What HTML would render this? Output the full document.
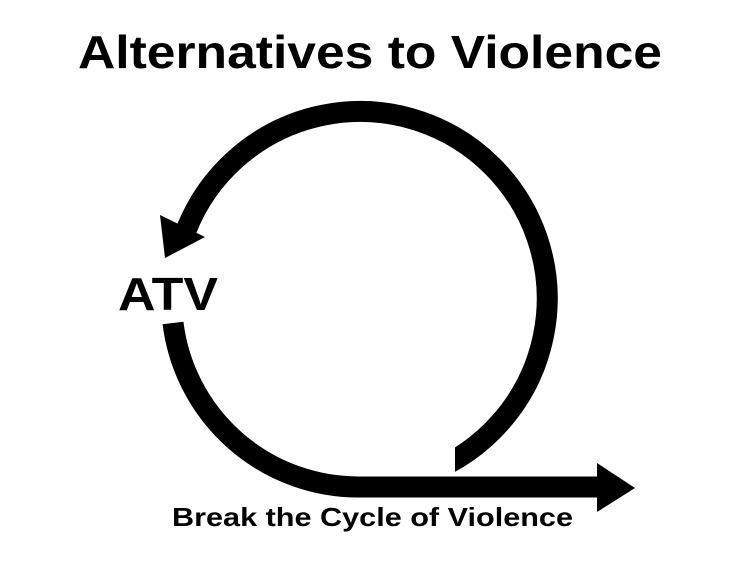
<!DOCTYPE html>
<html><head><meta charset="utf-8"><style>html,body{margin:0;padding:0;background:#fff;}svg{display:block;}</style></head>
<body>
<svg width="755" height="568" viewBox="0 0 755 568" xmlns="http://www.w3.org/2000/svg">
<defs>
<clipPath id="c"><path d="M0 0 H755 V420 H455 V568 H755 V420 H0 Z" fill-rule="nonzero"/><rect x="0" y="0" width="755" height="420"/><rect x="455" y="0" width="300" height="568"/></clipPath>
</defs>
<rect width="755" height="568" fill="#fff"/>
<text x="78" y="68" font-family="Liberation Sans, sans-serif" font-weight="bold" font-size="46" textLength="584" lengthAdjust="spacingAndGlyphs" fill="#000">Alternatives to Violence</text>
<path clip-path="url(#c)" d="M 430 472 A 187 187 0 1 0 186.6 229" fill="none" stroke="#000" stroke-width="21"/>
<polygon points="160,215 205,237 165,258" fill="#000"/>
<path d="M 173 323 A 187 187 0 0 0 360 487 L 598 487" fill="none" stroke="#000" stroke-width="21"/>
<polygon points="597,463 635,488 597,512" fill="#000"/>
<text x="118" y="310" font-family="Liberation Sans, sans-serif" font-weight="bold" font-size="46" textLength="100" lengthAdjust="spacingAndGlyphs" fill="#000">ATV</text>
<text x="172" y="526" font-family="Liberation Sans, sans-serif" font-weight="bold" font-size="26" textLength="401" lengthAdjust="spacingAndGlyphs" fill="#000">Break the Cycle of Violence</text>
</svg>
</body></html>
